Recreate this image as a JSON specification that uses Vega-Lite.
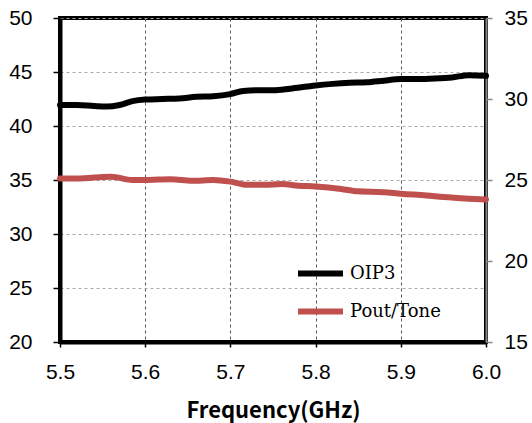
{
  "$schema": "https://vega.github.io/schema/vega-lite/v6.json",
  "autosize": "none",
  "width": 426,
  "height": 324,
  "padding": {"left": 60, "top": 18, "right": 46, "bottom": 81},
  "background": "white",
  "config": {
    "view": {"stroke": "black", "strokeWidth": 4},
    "axis": {"labelFont": "Liberation Sans", "labelFontSize": 21, "labelColor": "#000", "tickColor": "#000", "gridDash": [3, 3]}
  },
  "data": {
    "values": [
      {"series": "OIP3", "freq": 5.50, "value": 41.95},
      {"series": "OIP3", "freq": 5.52, "value": 41.95},
      {"series": "OIP3", "freq": 5.54, "value": 41.85},
      {"series": "OIP3", "freq": 5.555, "value": 41.8},
      {"series": "OIP3", "freq": 5.57, "value": 41.95},
      {"series": "OIP3", "freq": 5.585, "value": 42.3},
      {"series": "OIP3", "freq": 5.60, "value": 42.45},
      {"series": "OIP3", "freq": 5.62, "value": 42.5},
      {"series": "OIP3", "freq": 5.64, "value": 42.55},
      {"series": "OIP3", "freq": 5.66, "value": 42.7},
      {"series": "OIP3", "freq": 5.68, "value": 42.75},
      {"series": "OIP3", "freq": 5.70, "value": 42.95},
      {"series": "OIP3", "freq": 5.715, "value": 43.25},
      {"series": "OIP3", "freq": 5.73, "value": 43.3},
      {"series": "OIP3", "freq": 5.75, "value": 43.3},
      {"series": "OIP3", "freq": 5.77, "value": 43.45},
      {"series": "OIP3", "freq": 5.79, "value": 43.65},
      {"series": "OIP3", "freq": 5.80, "value": 43.75},
      {"series": "OIP3", "freq": 5.82, "value": 43.9},
      {"series": "OIP3", "freq": 5.84, "value": 44.0},
      {"series": "OIP3", "freq": 5.86, "value": 44.05},
      {"series": "OIP3", "freq": 5.88, "value": 44.2},
      {"series": "OIP3", "freq": 5.90, "value": 44.35},
      {"series": "OIP3", "freq": 5.92, "value": 44.35},
      {"series": "OIP3", "freq": 5.94, "value": 44.4},
      {"series": "OIP3", "freq": 5.96, "value": 44.5},
      {"series": "OIP3", "freq": 5.98, "value": 44.7},
      {"series": "OIP3", "freq": 6.00, "value": 44.65},
      {"series": "Pout/Tone", "freq": 5.50, "value": 25.1},
      {"series": "Pout/Tone", "freq": 5.52, "value": 25.1},
      {"series": "Pout/Tone", "freq": 5.54, "value": 25.15},
      {"series": "Pout/Tone", "freq": 5.56, "value": 25.2},
      {"series": "Pout/Tone", "freq": 5.585, "value": 25.0},
      {"series": "Pout/Tone", "freq": 5.60, "value": 25.0},
      {"series": "Pout/Tone", "freq": 5.63, "value": 25.05},
      {"series": "Pout/Tone", "freq": 5.655, "value": 24.95},
      {"series": "Pout/Tone", "freq": 5.68, "value": 25.0},
      {"series": "Pout/Tone", "freq": 5.70, "value": 24.9},
      {"series": "Pout/Tone", "freq": 5.72, "value": 24.7},
      {"series": "Pout/Tone", "freq": 5.74, "value": 24.7},
      {"series": "Pout/Tone", "freq": 5.76, "value": 24.75},
      {"series": "Pout/Tone", "freq": 5.78, "value": 24.65},
      {"series": "Pout/Tone", "freq": 5.80, "value": 24.6},
      {"series": "Pout/Tone", "freq": 5.83, "value": 24.45},
      {"series": "Pout/Tone", "freq": 5.85, "value": 24.3},
      {"series": "Pout/Tone", "freq": 5.88, "value": 24.25},
      {"series": "Pout/Tone", "freq": 5.90, "value": 24.15},
      {"series": "Pout/Tone", "freq": 5.93, "value": 24.05},
      {"series": "Pout/Tone", "freq": 5.95, "value": 23.95},
      {"series": "Pout/Tone", "freq": 5.98, "value": 23.85},
      {"series": "Pout/Tone", "freq": 6.00, "value": 23.8}
    ]
  },
  "encoding": {
    "x": {
      "field": "freq", "type": "quantitative",
      "scale": {"domain": [5.5, 6.0], "nice": false, "zero": false},
      "axis": {
        "title": "Frequency(GHz)",
        "titleFont": "Noto Sans CJK SC", "titleFontSize": 22, "titleFontWeight": "bold", "titleColor": "#000",
        "titlePadding": 18,
        "values": [5.5, 5.6, 5.7, 5.8, 5.9, 6.0], "format": ".1f",
        "domainColor": "#000", "domainWidth": 4,
        "tickSize": 5, "tickWidth": 1.5, "labelPadding": 14,
        "grid": true, "gridColor": "#555", "gridWidth": 1,
        "labelFlush": false
      }
    }
  },
  "layer": [
    {
      "transform": [{"filter": "datum.series === 'OIP3'"}],
      "mark": {"type": "line", "strokeWidth": 6, "strokeCap": "round", "interpolate": "monotone"},
      "encoding": {
        "y": {
          "field": "value", "type": "quantitative",
          "scale": {"domain": [20, 50], "nice": false, "zero": false},
          "axis": {
            "title": null, "orient": "left",
            "values": [20, 25, 30, 35, 40, 45, 50],
            "domainColor": "#000", "domainWidth": 4,
            "tickSize": 7, "tickWidth": 1.5, "labelPadding": 21,
            "grid": true, "gridColor": "#aaa", "gridWidth": 1
          }
        },
        "color": {
          "field": "series", "type": "nominal",
          "scale": {"domain": ["OIP3", "Pout/Tone"], "range": ["#000000", "#C0504D"]},
          "legend": {
            "title": null, "orient": "none", "legendX": 235, "legendY": 230,
            "symbolType": "stroke", "symbolSize": 2025, "symbolStrokeWidth": 6,
            "labelFont": "DejaVu Serif", "labelFontSize": 18, "labelColor": "#000",
            "labelOffset": 4, "rowPadding": -3
          }
        }
      }
    },
    {
      "transform": [{"filter": "datum.series === 'Pout/Tone'"}],
      "mark": {"type": "line", "strokeWidth": 6, "strokeCap": "round", "interpolate": "monotone"},
      "encoding": {
        "y": {
          "field": "value", "type": "quantitative",
          "scale": {"domain": [15, 35], "nice": false, "zero": false},
          "axis": {
            "title": null, "orient": "right",
            "values": [15, 20, 25, 30, 35],
            "domainColor": "#888", "domainWidth": 2,
            "tickColor": "#888", "tickSize": 6, "tickWidth": 1.5, "labelPadding": 12,
            "grid": false
          }
        },
        "color": {"field": "series", "type": "nominal"}
      }
    }
  ],
  "resolve": {"scale": {"y": "independent"}}
}
